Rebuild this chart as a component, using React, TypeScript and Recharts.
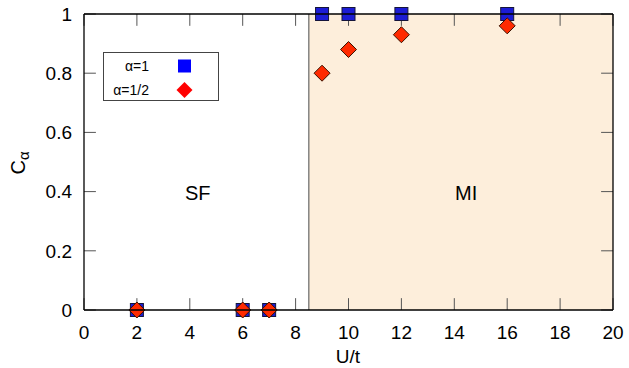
import React from "react";
import {
  ScatterChart,
  Scatter,
  XAxis,
  YAxis,
  ReferenceArea,
  ReferenceLine,
  ReferenceDot,
  Legend,
} from "recharts";

// U/t values and the order parameter C_alpha for each alpha
const uOverT = [2, 6, 7, 9, 10, 12, 16];
const cAlphaOne = [0, 0, 0, 1, 1, 1, 1];
const cAlphaHalf = [0, 0, 0, 0.8, 0.88, 0.93, 0.96];

const seriesNames = ["α=1", "α=1/2"];

const xTicks = [0, 2, 4, 6, 8, 10, 12, 14, 16, 18, 20];
const yTicks = [0, 0.2, 0.4, 0.6, 0.8, 1];

// Mott-insulator region boundary
const phaseBoundary = 8.5;

// phase labels
const phaseLabels = ["SF", "MI"];
const phaseLabelX = [4.3, 14.45];
const phaseLabelY = [0.395, 0.395];

// gnuplot-style inward ticks, length in data units (~12px)
const tickLenX = 0.45;
const tickLenY = 0.04;

const FONT = "'Liberation Sans', Arial, Helvetica, sans-serif";

const dataOne = uOverT.map((x, i) => ({ x, y: cAlphaOne[i] }));
const dataHalf = uOverT.map((x, i) => ({ x, y: cAlphaHalf[i] }));

function SquareMark(props: any) {
  const { cx, cy } = props;
  return <rect x={cx - 6.5} y={cy - 6.5} width={13} height={13} fill="#1c1cd4" stroke="#14143a" strokeWidth={1} />;
}

function DiamondMark(props: any) {
  const { cx, cy } = props;
  const r = 8;
  return (
    <polygon
      points={`${cx},${cy - r} ${cx + r},${cy} ${cx},${cy + r} ${cx - r},${cy}`}
      fill="#ff2a00"
      stroke="#3a1200"
      strokeWidth={1}
    />
  );
}

function LegendBox() {
  return (
    <div style={{ width: 116, height: 49, border: "1.3px solid #444", boxSizing: "border-box", background: "#fff" }}>
      <svg width={114} height={47} style={{ display: "block" }}>
        <text x={45} y={13} textAnchor="end" dominantBaseline="central" fontSize={14} fontFamily={FONT} fill="#000">
          {seriesNames[0]}
        </text>
        <rect x={74} y={6.5} width={13} height={13} fill="#0000ff" />
        <text x={45} y={37} textAnchor="end" dominantBaseline="central" fontSize={14} fontFamily={FONT} fill="#000">
          {seriesNames[1]}
        </text>
        <polygon points="80.5,29 88.5,37 80.5,45 72.5,37" fill="#ff0000" />
      </svg>
    </div>
  );
}

function YLabel() {
  return (
    <text transform="translate(25,163) rotate(-90)" textAnchor="middle" fontSize={20} fontFamily={FONT} fill="#000">
      C
      <tspan fontSize={15} dy={4}>
        α
      </tspan>
    </text>
  );
}

function XLabel() {
  return (
    <text x={348} y={363} textAnchor="middle" fontSize={19} fontFamily={FONT} fill="#000">
      U/t
    </text>
  );
}

const tickStroke = "#555";

export default function App() {
  return (
    <div style={{ position: "absolute", left: 0, top: 0, width: 629, height: 368, background: "#fff" }}>
      <ScatterChart
        width={629}
        height={368}
        margin={{ top: 14, right: 16, bottom: 10, left: 20 }}
        style={{ fontFamily: FONT }}
      >
        <ReferenceArea
          x1={phaseBoundary}
          x2={20}
          y1={0}
          y2={1}
          fill="#fdeedb"
          fillOpacity={1}
          stroke="none"
        />
        <ReferenceLine x={phaseBoundary} stroke="#666" strokeWidth={1.2} />
        <XAxis
          type="number"
          dataKey="x"
          domain={[0, 20]}
          ticks={xTicks}
          height={48}
          tickSize={-12}
          tickMargin={28}
          tick={{ fontSize: 19, fill: "#000" }}
          tickLine={false}
          axisLine={false}
          label={<XLabel />}
        />
        <YAxis
          type="number"
          dataKey="y"
          domain={[0, 1]}
          ticks={yTicks}
          width={64}
          tickSize={-12}
          tickMargin={24}
          tick={{ fontSize: 19, fill: "#000" }}
          tickLine={false}
          axisLine={false}
          label={<YLabel />}
        />
        {/* inward ticks on all four sides */}
        {xTicks.map((t) => (
          <ReferenceLine
            key={`xb${t}`}
            segment={[{ x: t, y: 0 }, { x: t, y: tickLenY }]}
            stroke={tickStroke}
            ifOverflow="visible"
          />
        ))}
        {xTicks.map((t) => (
          <ReferenceLine
            key={`xt${t}`}
            segment={[{ x: t, y: 1 }, { x: t, y: 1 - tickLenY }]}
            stroke={tickStroke}
            ifOverflow="visible"
          />
        ))}
        {yTicks.map((t) => (
          <ReferenceLine
            key={`yl${t}`}
            segment={[{ x: 0, y: t }, { x: tickLenX, y: t }]}
            stroke={tickStroke}
            ifOverflow="visible"
          />
        ))}
        {yTicks.map((t) => (
          <ReferenceLine
            key={`yr${t}`}
            segment={[{ x: 20, y: t }, { x: 20 - tickLenX, y: t }]}
            stroke={tickStroke}
            ifOverflow="visible"
          />
        ))}
        {phaseLabels.map((t, i) => (
          <ReferenceDot
            key={t}
            x={phaseLabelX[i]}
            y={phaseLabelY[i]}
            r={0}
            fill="none"
            stroke="none"
            label={{ value: t, position: "center", fontSize: 20, fill: "#000" }}
          />
        ))}
        <Legend
          layout="horizontal"
          verticalAlign="middle"
          align="center"
          wrapperStyle={{ left: 103, top: 52, width: 116, height: 49 }}
          content={() => <LegendBox />}
        />
        <Scatter name={seriesNames[0]} data={dataOne} shape={<SquareMark />} isAnimationActive={false} />
        <Scatter name={seriesNames[1]} data={dataHalf} shape={<DiamondMark />} isAnimationActive={false} />
        {/* plot frame, drawn over the markers as gnuplot does */}
        <ReferenceLine y={0} stroke="#000" strokeWidth={1.3} ifOverflow="visible" zIndex={1000} />
        <ReferenceLine y={1} stroke="#000" strokeWidth={1.3} ifOverflow="visible" zIndex={1000} />
        <ReferenceLine x={0} stroke="#000" strokeWidth={1.3} ifOverflow="visible" zIndex={1000} />
        <ReferenceLine x={20} stroke="#000" strokeWidth={1.3} ifOverflow="visible" zIndex={1000} />
      </ScatterChart>
    </div>
  );
}
